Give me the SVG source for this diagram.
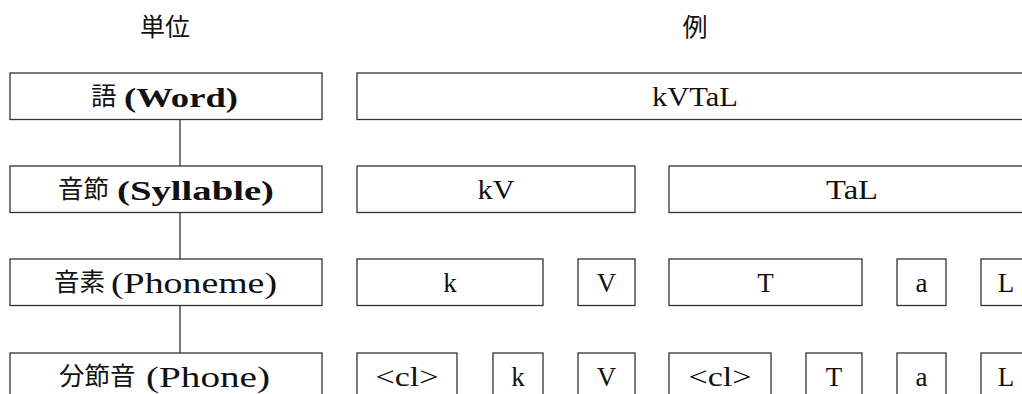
<svg xmlns="http://www.w3.org/2000/svg" width="1022" height="394" viewBox="0 0 1022 394">
<style>
  .box { fill: #fff; stroke: #333; stroke-width: 1.3; }
  .conn { stroke: #333; stroke-width: 1.3; fill: none; }
  .hdr { font-family: "Noto Sans CJK JP", sans-serif; font-size: 25px; fill: #111; text-anchor: middle; }
  .cjk { font-family: "Noto Sans CJK JP", sans-serif; font-size: 25.5px; fill: #111; }
  .lb { font-family: "Liberation Serif", serif; font-size: 28px; font-weight: bold; fill: #111; }
  .lr { font-family: "Liberation Serif", serif; font-size: 30px; fill: #111; }
  .ex { font-family: "Liberation Serif", serif; font-size: 27px; fill: #111; text-anchor: middle; }
</style>
<rect width="1022" height="394" fill="#fff"/>
<g id="headers">
  <text class="hdr" x="165" y="36">単位</text>
  <text class="hdr" x="695" y="36">例</text>
</g>
<g id="connectors">
  <line class="conn" x1="180" y1="119.5" x2="180" y2="166"/>
  <line class="conn" x1="180" y1="212.5" x2="180" y2="259"/>
  <line class="conn" x1="180" y1="305.5" x2="180" y2="353"/>
</g>
<g id="unit-word"><rect class="box" x="10" y="73" width="312" height="46.5"/>
  <text class="cjk" x="91" y="104.5">語</text>
  <text class="lb" x="124" y="106.5" textLength="114" lengthAdjust="spacingAndGlyphs">(Word)</text></g>
<g id="unit-syllable"><rect class="box" x="10" y="166" width="312" height="46.5"/>
  <text class="cjk" x="58" y="197.5">音節</text>
  <text class="lb" x="117" y="199.5" textLength="157" lengthAdjust="spacingAndGlyphs">(Syllable)</text></g>
<g id="unit-phoneme"><rect class="box" x="10" y="259" width="312" height="46.5"/>
  <text class="cjk" x="54" y="290.5">音素</text>
  <text class="lr" x="111" y="292.5" textLength="166" lengthAdjust="spacingAndGlyphs">(Phoneme)</text></g>
<g id="unit-phone"><rect class="box" x="10" y="353" width="312" height="46.5"/>
  <text class="cjk" x="59" y="384.5">分節音</text>
  <text class="lr" x="146" y="386.5" textLength="124" lengthAdjust="spacingAndGlyphs">(Phone)</text></g>

<g id="ex-word"><rect class="box" x="357" y="73" width="676" height="46.5"/><text class="ex" x="695" y="106" textLength="86" lengthAdjust="spacingAndGlyphs">kVTaL</text></g>

<g id="ex-syl-kV"><rect class="box" x="357" y="166" width="278" height="46.5"/><text class="ex" x="496" y="199" textLength="37" lengthAdjust="spacingAndGlyphs">kV</text></g>
<g id="ex-syl-TaL"><rect class="box" x="669" y="166" width="366" height="46.5"/><text class="ex" x="852" y="199" textLength="52" lengthAdjust="spacingAndGlyphs">TaL</text></g>

<g id="ex-ph-k"><rect class="box" x="357" y="259" width="186" height="46.5"/><text class="ex" x="450" y="292">k</text></g>
<g id="ex-ph-V"><rect class="box" x="578" y="259" width="57" height="46.5"/><text class="ex" x="606.5" y="292">V</text></g>
<g id="ex-ph-T"><rect class="box" x="669" y="259" width="193" height="46.5"/><text class="ex" x="765.5" y="292">T</text></g>
<g id="ex-ph-a"><rect class="box" x="897" y="259" width="49" height="46.5"/><text class="ex" x="921.5" y="292">a</text></g>
<g id="ex-ph-L"><rect class="box" x="981" y="259" width="50" height="46.5"/><text class="ex" x="1006" y="292">L</text></g>

<g id="ex-pn-cl1"><rect class="box" x="357" y="353" width="100" height="46.5"/><text class="ex" x="407" y="386" textLength="63" lengthAdjust="spacingAndGlyphs">&lt;cl&gt;</text></g>
<g id="ex-pn-k"><rect class="box" x="493" y="353" width="50" height="46.5"/><text class="ex" x="518" y="386">k</text></g>
<g id="ex-pn-V"><rect class="box" x="578" y="353" width="57" height="46.5"/><text class="ex" x="606.5" y="386">V</text></g>
<g id="ex-pn-cl2"><rect class="box" x="669" y="353" width="102" height="46.5"/><text class="ex" x="720" y="386" textLength="63" lengthAdjust="spacingAndGlyphs">&lt;cl&gt;</text></g>
<g id="ex-pn-T"><rect class="box" x="806" y="353" width="56" height="46.5"/><text class="ex" x="834" y="386">T</text></g>
<g id="ex-pn-a"><rect class="box" x="897" y="353" width="49" height="46.5"/><text class="ex" x="921.5" y="386">a</text></g>
<g id="ex-pn-L"><rect class="box" x="981" y="353" width="50" height="46.5"/><text class="ex" x="1006" y="386">L</text></g>
</svg>
